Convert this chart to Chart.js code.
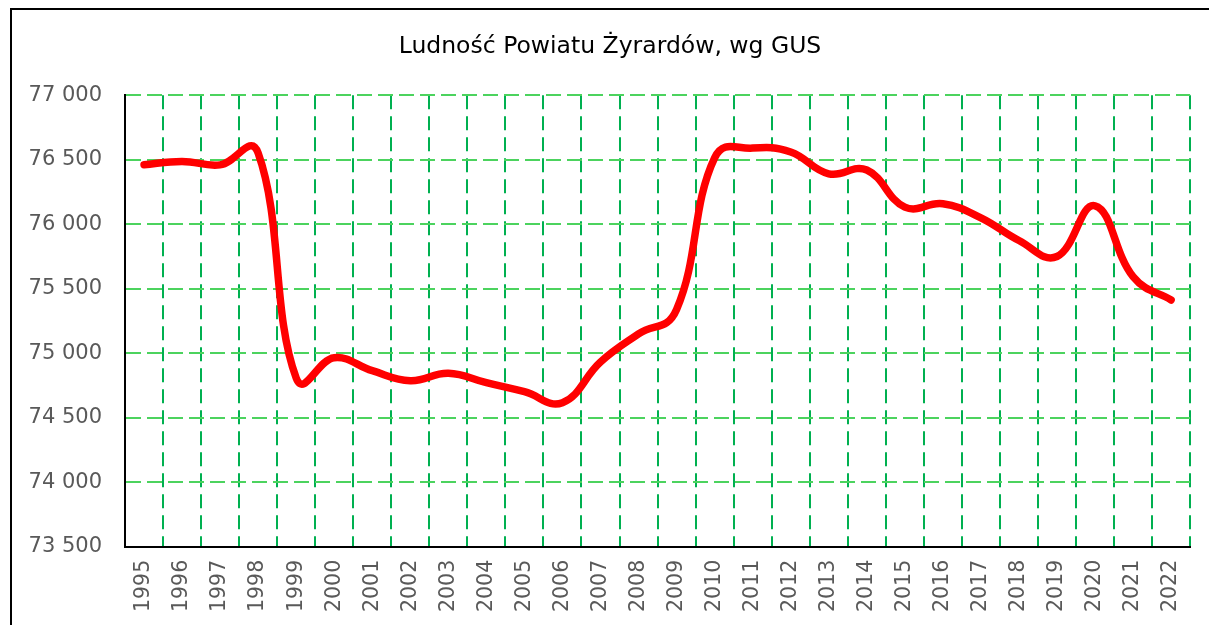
<!DOCTYPE html>
<html lang="pl">
<head>
<meta charset="utf-8">
<title>Ludność Powiatu Żyrardów</title>
<script src="https://cdn.jsdelivr.net/npm/chart.js@4/dist/chart.umd.min.js"></script>
<style>
  html, body { margin: 0; padding: 0; background: #fff; overflow: hidden; }
  #ramka {
    position: absolute; left: 10px; top: 8px;
    width: 1300px; height: 700px;
    border-left: 2px solid #000; border-top: 2px solid #000;
  }
  #wykres { position: absolute; left: 0; top: 0; }
</style>
</head>
<body>
<div id="ramka"></div>
<canvas id="wykres" width="1209" height="625"></canvas>
<script>
// Dane (GUS)
const lata = ['1995', '1996', '1997', '1998', '1999', '2000', '2001', '2002', '2003', '2004',
              '2005', '2006', '2007', '2008', '2009', '2010', '2011', '2012', '2013', '2014',
              '2015', '2016', '2017', '2018', '2019', '2020', '2021', '2022'];
const ludnosc = [76461, 76487, 76460, 76552, 74808, 74966, 74865, 74788, 74845, 74772,
                 74702, 74617, 74932, 75150, 75340, 76515, 76590, 76560, 76391, 76420,
                 76133, 76159, 76050, 75874, 75750, 76143, 75594, 75413];
const osY = { min: 73500, max: 77000, krok: 500 };

// Formatowanie liczb ze spacją jako separatorem tysięcy
function formatuj(v) {
    return String(v).replace(/\B(?=(\d{3})+(?!\d))/g, ' ');
}

// Wygładzanie bliższe Excelowi: mieszanka krzywej Chart.js i równomiernego Catmull-Rom
const wygladzanie = {
    id: 'wygladzanie',
    beforeDatasetsDraw(chart) {
        const meta = chart.getDatasetMeta(0);
        meta.dataset.updateControlPoints(chart.chartArea, 'x');
        const pkt = meta.data;
        const t = 0.42, a = 0.25;
        for (let i = 0; i < pkt.length; i++) {
            const p0 = pkt[Math.max(i - 1, 0)];
            const p1 = pkt[i];
            const p2 = pkt[Math.min(i + 1, pkt.length - 1)];
            const d01 = Math.hypot(p1.x - p0.x, p1.y - p0.y);
            const d12 = Math.hypot(p2.x - p1.x, p2.y - p1.y);
            const s = d01 + d12 || 1;
            const fa = t * ((1 - a) * d01 / s + a * 0.5);
            const fb = t * ((1 - a) * d12 / s + a * 0.5);
            p1.cp1x = p1.x - fa * (p2.x - p0.x);
            p1.cp1y = p1.y - fa * (p2.y - p0.y);
            p1.cp2x = p1.x + fb * (p2.x - p0.x);
            p1.cp2y = p1.y + fb * (p2.y - p0.y);
        }
    }
};

const ctx = document.getElementById('wykres').getContext('2d');
new Chart(ctx, {
    type: 'line',
    data: {
        labels: lata,
        datasets: [{
            label: 'Ludność',
            data: ludnosc,
            borderColor: '#ff0000',
            borderWidth: 7.5,
            borderCapStyle: 'round',
            borderJoinStyle: 'round',
            pointRadius: 0,
            tension: 0.4,
            fill: false
        }]
    },
    options: {
        responsive: false,
        animation: false,
        layout: { padding: { top: 10, left: 28, right: 17, bottom: 0 } },
        plugins: {
            legend: { display: false },
            tooltip: { enabled: false },
            title: {
                display: true,
                text: 'Ludność Powiatu Żyrardów, wg GUS',
                color: '#000',
                font: { family: 'DejaVu Sans', size: 23.5, weight: 'normal' },
                padding: { top: 23, bottom: 34 }
            }
        },
        scales: {
            x: {
                offset: true,
                grid: {
                    offset: true,
                    color: '#00b050',
                    lineWidth: 2,
                    drawTicks: false
                },
                // w Chart.js v4 border.dash ustawia przerywanie linii siatki
                border: { display: true, color: '#000', width: 2, dash: [14, 7] },
                ticks: {
                    color: '#595959',
                    font: { family: 'DejaVu Sans', size: 20.5 },
                    minRotation: 90,
                    maxRotation: 90,
                    autoSkip: false,
                    padding: 13
                }
            },
            y: {
                min: osY.min,
                max: osY.max,
                afterFit(scale) { scale.width = 97; },
                grid: {
                    color: '#4cd35e',
                    lineWidth: 2,
                    drawTicks: false
                },
                border: { display: true, color: '#000', width: 2, dash: [15, 6] },
                ticks: {
                    stepSize: osY.krok,
                    color: '#595959',
                    font: { family: 'DejaVu Sans', size: 21 },
                    padding: 23,
                    callback: (v) => formatuj(v)
                }
            }
        }
    },
    plugins: [wygladzanie]
});
</script>
</body>
</html>
